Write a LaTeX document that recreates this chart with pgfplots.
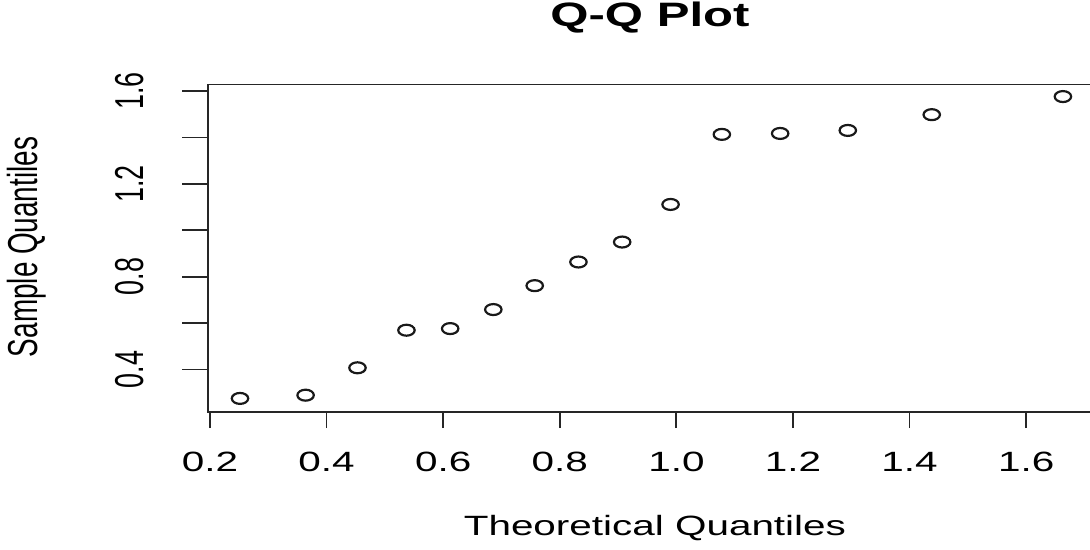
\documentclass[border=0pt]{standalone}
\usepackage{pgfplots}
\pgfplotsset{compat=1.18}
\usepackage{fontspec}
\setmainfont{Liberation Sans}
\usepackage{graphicx}
\newcommand{\hs}[1]{\scalebox{1.45}[1]{#1}}
\newcommand{\vs}[1]{\scalebox{1}[1.5]{#1}}
\begin{document}
\begin{tikzpicture}
\useasboundingbox (0,0) rectangle (1090bp,550bp);
\clip (0,0) rectangle (1090bp,550bp);
\begin{axis}[
  at={(208bp,138bp)}, anchor=south west,
  scale only axis, width=892bp, height=327.5bp,
  xmin=0.1966, xmax=1.7266, ymin=0.2165, ymax=1.628,
  axis line style={line width=1.8pt, black!85},
  tick style={line width=1.8pt, black!85},
  tick align=outside,
  xtick pos=bottom, ytick pos=left,
  major tick length=16bp,
  ytick style={/pgfplots/major tick length=26bp},
  xtick={0.2,0.4,0.6,0.8,1.0,1.2,1.4,1.6},
  xticklabels={\hs{0.2},\hs{0.4},\hs{0.6},\hs{0.8},\hs{1.0},\hs{1.2},\hs{1.4},\hs{1.6}},
  ytick={0.4,0.6,0.8,1.0,1.2,1.4,1.6},
  yticklabels={\vs{0.4},,\vs{0.8},,\vs{1.2},,\vs{1.6}},
  xticklabel style={inner sep=0pt, anchor=north, font=\fontsize{28}{32}\selectfont},
  yticklabel style={inner sep=0pt, rotate=90, anchor=south, font=\fontsize{27}{32}\selectfont},
  xticklabel shift=24bp,
  yticklabel shift=48bp,
  title={\hs{\bfseries Q-Q Plot}},
  title style={at={(axis description cs:0.4955,1.159)}, anchor=base, inner sep=0pt, font=\fontsize{34}{40}\selectfont},
  xlabel={\hs{Theoretical Quantiles}},
  xlabel style={at={(axis description cs:0.501,-0.3756)}, anchor=base, inner sep=0pt, font=\fontsize{28}{32}\selectfont},
  ylabel={\vs{Sample Quantiles}},
  ylabel style={at={(axis description cs:-0.2029,0.504)}, anchor=center, inner sep=0pt, font=\fontsize{28}{32}\selectfont},
  clip=false,
]
\addplot[only marks, mark=o, mark size=5.5pt, mark options={xscale=1.5, line width=2.2pt, black!90}] coordinates {
(0.2515,0.275) (0.364,0.289) (0.453,0.407) (0.537,0.569) (0.612,0.576)
(0.686,0.658) (0.757,0.761) (0.832,0.863) (0.907,0.949) (0.990,1.111)
(1.078,1.413) (1.178,1.417) (1.294,1.430) (1.438,1.498) (1.663,1.576)
};
\end{axis}
\end{tikzpicture}
\end{document}
